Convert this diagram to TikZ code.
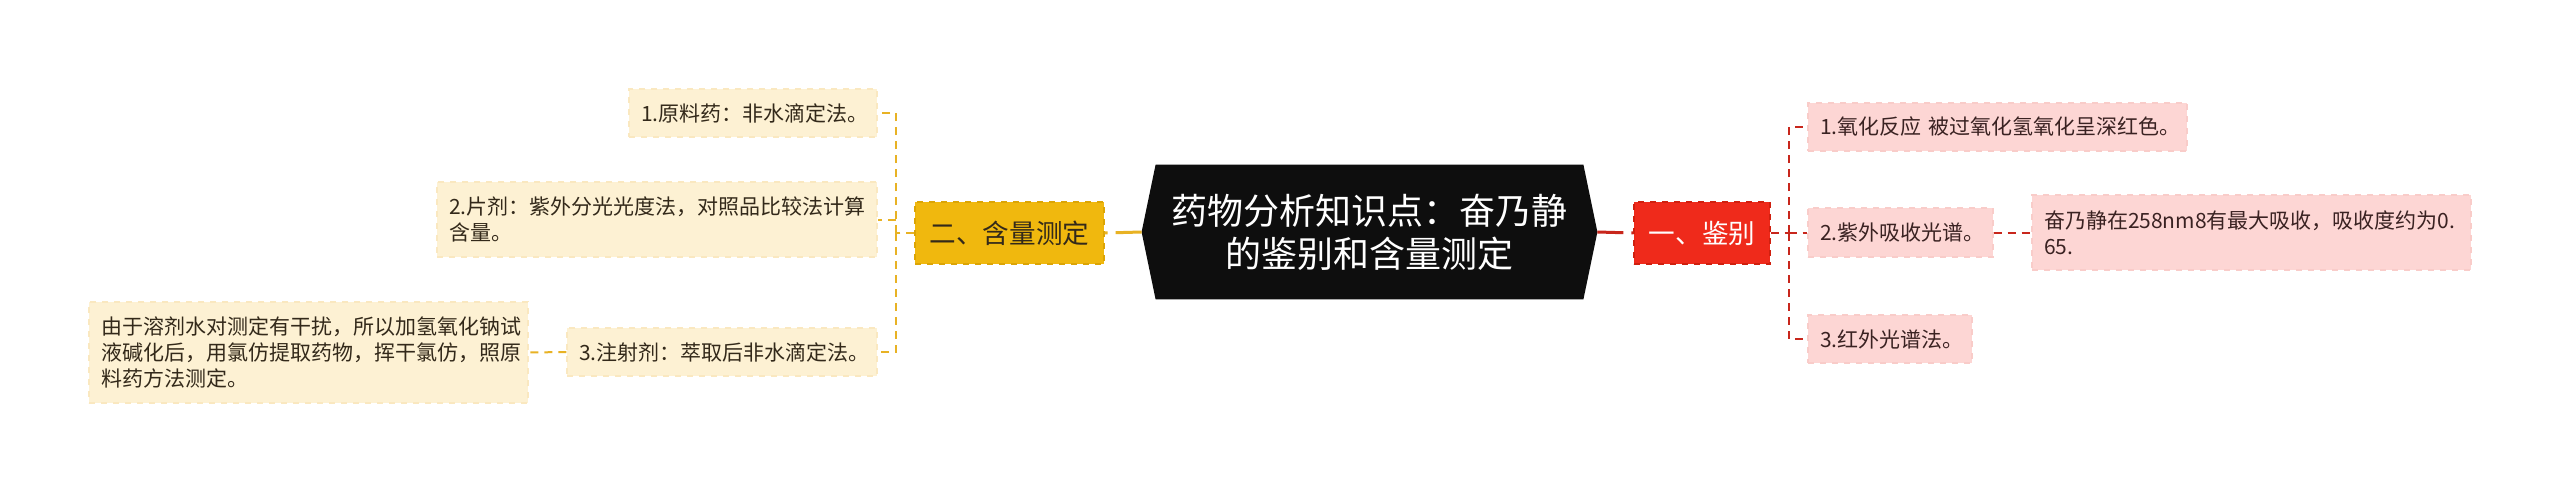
\documentclass[tikz,border=0pt]{standalone}
\usepackage{fontspec}
\setmainfont{Noto Sans CJK SC}
\usetikzlibrary{backgrounds}
\definecolor{cfill}{HTML}{0E0E0E}
\definecolor{ybfill}{HTML}{F0B80E}
\definecolor{ybdraw}{HTML}{DCA505}
\definecolor{yfill}{HTML}{FDF1D3}
\definecolor{ydraw}{HTML}{FAE8C0}
\definecolor{yline}{HTML}{E8B224}
\definecolor{ytext}{HTML}{33291A}
\definecolor{rbfill}{HTML}{EF2A1B}
\definecolor{rbdraw}{HTML}{D0200F}
\definecolor{rfill}{HTML}{FDD6D4}
\definecolor{rdraw}{HTML}{F9CCC9}
\definecolor{rline}{HTML}{C8261C}
\definecolor{rtext}{HTML}{3A2222}
\begin{document}
\begin{tikzpicture}[x=0.5pt,y=-0.5pt,
  leaf/.style={rectangle, dashed, line width=0.6pt, align=left,
    font=\fontsize{10.5pt}{13pt}\selectfont, inner xsep=6pt, inner ysep=0pt, anchor=center},
  yleaf/.style={leaf, fill=yfill, draw=ydraw, text=ytext},
  rleaf/.style={leaf, fill=rfill, draw=rdraw, text=rtext},
  branch/.style={rectangle, dashed, line width=0.7pt, align=center,
    font=\fontsize{13.3pt}{16pt}\selectfont, inner sep=0pt, minimum height=31pt},
  centre/.style={rectangle, align=center, text=white, inner sep=0pt,
    font=\fontsize{18pt}{21.5pt}\selectfont, minimum width=227.5pt, minimum height=67pt},
  yconn/.style={draw=yline, line width=1pt, dash pattern=on 4pt off 3pt},
  rconn/.style={draw=rline, line width=1pt, dash pattern=on 4pt off 3pt},
  ymain/.style={draw=yline, line width=1.5pt, dash pattern=on 13pt off 4pt},
  rmain/.style={draw=rline, line width=1.5pt, dash pattern=on 13pt off 4pt}]
\useasboundingbox (0,0) rectangle (2560,493);

% centre
\node[centre] (c) at (1369.5,232) {药物分析知识点：奋乃静\\的鉴别和含量测定};
\begin{scope}[on background layer]
\fill[white] (0,0) rectangle (2560,493);
\fill[cfill] ([xshift=7pt]c.north west) -- ([xshift=-7pt]c.north east) -- (c.east)
  -- ([xshift=-7pt]c.south east) -- ([xshift=7pt]c.south west) -- (c.west) -- cycle;
\end{scope}

% left branch
\node[branch, fill=ybfill, draw=ybdraw, text=ytext, minimum width=94.5pt] (yb) at (1009.5,233) {二、含量测定};
\node[yleaf, text width=112pt, minimum height=24pt] (y1) at (753,113) {1.原料药：非水滴定法。};
\node[yleaf, text width=208pt, minimum height=37.5pt] (y2) at (657,219.5) {2.片剂：紫外分光光度法，对照品比较法计算\\含量。};
\node[yleaf, text width=143pt, minimum height=24pt] (y3) at (722,352) {3.注射剂：萃取后非水滴定法。};
\node[yleaf, text width=207.5pt, minimum height=50.5pt] (y3b) at (308.5,352.5) {由于溶剂水对测定有干扰，所以加氢氧化钠试\\液碱化后，用氯仿提取药物，挥干氯仿，照原\\料药方法测定。};

% right branch
\node[branch, fill=rbfill, draw=rbdraw, text=white, minimum width=68pt] (rb) at (1702,233) {一、鉴别};
\node[rleaf, text width=177.5pt, minimum height=24pt] (r1) at (1997.5,127) {1.氧化反应~被过氧化氢氧化呈深红色。};
\node[rleaf, text width=80.5pt, minimum height=24.5pt] (r2) at (1900.5,232.5) {2.紫外吸收光谱。};
\node[rleaf, text width=207.5pt, minimum height=37.5pt] (r2b) at (2251.5,232.5) {奋乃静在258nm8有最大吸收，吸收度约为0.\\65.};
\node[rleaf, text width=70pt, minimum height=24pt] (r3) at (1890,339) {3.红外光谱法。};

% junctions
\coordinate (yj) at (896,233);
\coordinate (rj) at (1789,233);

% connectors
\draw[ymain] (c.west) -- (yb.east);
\draw[rmain] (c.east) -- (rb.west);
\draw[yconn] (yb.west) -- (yj);
\draw[yconn] (yj) |- (y1.east);
\draw[yconn] (yj) |- (y2.east);
\draw[yconn] (yj) |- (y3.east);
\draw[yconn] (y3.west) -- (y3b.east);
\draw[rconn] (rb.east) -- (rj);
\draw[rconn] (rj) |- (r1.west);
\draw[rconn] (rj) |- (r2.west);
\draw[rconn] (rj) |- (r3.west);
\draw[rconn] (r2.east) -- (r2b.west);
\end{tikzpicture}
\end{document}
